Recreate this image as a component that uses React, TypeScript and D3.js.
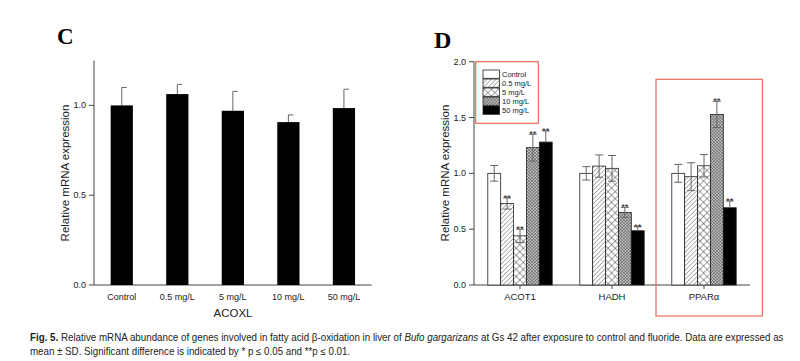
import React, { useLayoutEffect, useRef } from "react";
import * as d3 from "d3";

// Panel C data
const cCategories = ["Control", "0.5 mg/L", "5  mg/L", "10 mg/L", "50 mg/L"];
const cMeans = [1.0, 1.063, 0.97, 0.907, 0.985];
const cErrors = [0.1, 0.054, 0.108, 0.04, 0.105];
const cTicks = [0, 0.5, 1.0];

// Panel D data
const dGenes = ["ACOT1", "HADH", "PPARα"];
const dGroups = ["Control", "0.5 mg/L", "5 mg/L", "10 mg/L", "50 mg/L"];
const acot1Means = [1.0, 0.73, 0.44, 1.23, 1.28];
const acot1Errors = [0.07, 0.05, 0.06, 0.12, 0.1];
const hadhMeans = [1.0, 1.065, 1.045, 0.65, 0.486];
const hadhErrors = [0.06, 0.1, 0.115, 0.045, 0.036];
const pparaMeans = [1.0, 0.97, 1.068, 1.528, 0.692];
const pparaErrors = [0.08, 0.125, 0.1, 0.117, 0.06];
const acot1Sig = ["", "**", "**", "**", "**"];
const hadhSig = ["", "", "", "**", "**"];
const pparaSig = ["", "", "", "**", "**"];
const dTicks = [0, 0.5, 1.0, 1.5, 2.0];

const dMeans = [acot1Means, hadhMeans, pparaMeans];
const dErrors = [acot1Errors, hadhErrors, pparaErrors];
const dSig = [acot1Sig, hadhSig, pparaSig];

const FONT = "'Liberation Sans', Arial, sans-serif";
const AXIS = "#444";
const ERR = "#666";
const RED = "#ec6a5c";

const fills = ["#fff", "url(#pDiag)", "url(#pCross)", "url(#pDense)", "#000"];

function FitText({ x, y, width, children }: { x: number; y: number; width: number; children: React.ReactNode }) {
  const ref = useRef<SVGTextElement>(null);
  useLayoutEffect(() => {
    const el = ref.current;
    if (!el) return;
    el.setAttribute("transform", `translate(${x},${y})`);
    const w = el.getBBox().width;
    const s = w > 0 ? width / w : 1;
    el.setAttribute("transform", `translate(${x},${y}) scale(${s},1)`);
  }, [x, y, width]);
  return (
    <text ref={ref} x={0} y={0} fontSize={10.2} fill="#222" transform={`translate(${x},${y})`}>
      {children}
    </text>
  );
}

export default function App() {
  const cx = d3.scaleBand<string>().domain(cCategories).range([94, 371.7]).paddingInner(0.6).paddingOuter(0.3);
  const cy = d3.scaleLinear().domain([0, 1.25]).range([285, 60.5]);

  const dx0 = d3.scaleBand<string>().domain(dGenes).range([474, 750]).paddingInner(0.3).paddingOuter(0.15);
  const dx1 = d3.scaleBand<string>().domain(dGroups).range([0, dx0.bandwidth()]);
  const dy = d3.scaleLinear().domain([0, 2]).range([285, 61.7]);

  const fmt = d3.format(".1f");

  return (
    <svg width={800} height={361} style={{ position: "absolute", left: 0, top: 0, background: "#fff" }} fontFamily={FONT}>
      <defs>
        <pattern id="pDiag" width="3.2" height="3.2" patternUnits="userSpaceOnUse" patternTransform="rotate(45)">
          <rect width="3.2" height="3.2" fill="#fff" />
          <line x1="0" y1="0" x2="0" y2="3.2" stroke="#555" strokeWidth="0.9" />
        </pattern>
        <pattern id="pCross" width="5" height="5" patternUnits="userSpaceOnUse" patternTransform="rotate(45)">
          <rect width="5" height="5" fill="#fff" />
          <line x1="0" y1="0" x2="0" y2="5" stroke="#333" strokeWidth="0.9" />
          <line x1="0" y1="0" x2="5" y2="0" stroke="#333" strokeWidth="0.9" />
        </pattern>
        <pattern id="pDense" width="2.2" height="2.2" patternUnits="userSpaceOnUse" patternTransform="rotate(45)">
          <rect width="2.2" height="2.2" fill="#c4c4c4" />
          <line x1="0" y1="0" x2="0" y2="2.2" stroke="#3a3a3a" strokeWidth="0.75" />
          <line x1="0" y1="0" x2="2.2" y2="0" stroke="#3a3a3a" strokeWidth="0.75" />
        </pattern>
      </defs>

      {/* ===== Panel C ===== */}
      <text x={57} y={44} fontFamily="'Liberation Serif', 'Times New Roman', serif" fontWeight="bold" fontSize={23}>C</text>
      <line x1={94} x2={94} y1={cy(1.25)} y2={cy(0)} stroke={AXIS} strokeWidth={1} />
      {cTicks.map((t) => (
        <g key={t}>
          <line x1={89} x2={94} y1={cy(t)} y2={cy(t)} stroke={AXIS} />
          <text x={86} y={cy(t) + 3} textAnchor="end" fontSize={9} fill="#222">{fmt(t)}</text>
        </g>
      ))}
      <line x1={94} x2={371.7} y1={cy(0)} y2={cy(0)} stroke={AXIS} />
      {cCategories.map((c, i) => {
        const x = cx(c)!;
        const w = cx.bandwidth();
        const mx = x + w / 2;
        return (
          <g key={c}>
            <line x1={mx} x2={mx} y1={cy(cMeans[i])} y2={cy(cMeans[i] + cErrors[i])} stroke={ERR} />
            <line x1={mx} x2={mx + 5} y1={cy(cMeans[i] + cErrors[i])} y2={cy(cMeans[i] + cErrors[i])} stroke={ERR} />
            <rect x={x} y={cy(cMeans[i])} width={w} height={cy(0) - cy(cMeans[i])} fill="#000" />
            <text x={mx} y={300} textAnchor="middle" fontSize={9} fill="#222">{c}</text>
          </g>
        );
      })}
      <text x={233} y={317} textAnchor="middle" fontSize={11.5} fill="#222">ACOXL</text>
      <text transform={`translate(69,173) rotate(-90)`} textAnchor="middle" fontSize={11.5} fill="#222">Relative mRNA expression</text>

      {/* ===== Panel D ===== */}
      <text x={434} y={48} fontFamily="'Liberation Serif', 'Times New Roman', serif" fontWeight="bold" fontSize={24}>D</text>
      <line x1={474} x2={474} y1={dy(2)} y2={dy(0)} stroke={AXIS} />
      {dTicks.map((t) => (
        <g key={t}>
          <line x1={469} x2={474} y1={dy(t)} y2={dy(t)} stroke={AXIS} />
          <text x={466} y={dy(t) + 3} textAnchor="end" fontSize={9} fill="#222">{fmt(t)}</text>
        </g>
      ))}
      <line x1={474} x2={750} y1={dy(0)} y2={dy(0)} stroke={AXIS} />
      {dGenes.map((g, gi) => {
        const gx = dx0(g)!;
        const cxm = gx + dx0.bandwidth() / 2;
        return (
          <g key={g}>
            <line x1={cxm} x2={cxm} y1={dy(0)} y2={dy(0) + 4} stroke={AXIS} />
            <text x={cxm} y={300} textAnchor="middle" fontSize={9.5} fill="#222">{g}</text>
            {dGroups.map((grp, i) => {
              const x = gx + dx1(grp)!;
              const w = dx1.bandwidth();
              const v = dMeans[gi][i];
              const e = dErrors[gi][i];
              const mx = x + w / 2;
              const black = i === 4;
              return (
                <g key={grp}>
                  <rect x={x} y={dy(v)} width={w} height={dy(0) - dy(v)} fill={fills[i]} stroke="#222" strokeWidth={0.8} />
                  <line x1={mx} x2={mx} y1={dy(v + e)} y2={black ? dy(v) : dy(v - e)} stroke={ERR} />
                  <line x1={mx - 4} x2={mx + 4} y1={dy(v + e)} y2={dy(v + e)} stroke={ERR} />
                  {!black && <line x1={mx - 4} x2={mx + 4} y1={dy(v - e)} y2={dy(v - e)} stroke={ERR} />}
                  {dSig[gi][i] && (
                    <text x={mx} y={dy(v + e) + 3} textAnchor="middle" fontSize={9.5} fill="#222">{dSig[gi][i]}</text>
                  )}
                </g>
              );
            })}
          </g>
        );
      })}
      <text transform={`translate(449,173) rotate(-90)`} textAnchor="middle" fontSize={11.5} fill="#222">Relative mRNA expression</text>

      {/* legend */}
      {dGroups.map((grp, i) => (
        <g key={grp}>
          <rect x={483} y={70 + i * 9} width={16.5} height={8.3} fill={fills[i]} stroke="#222" strokeWidth={0.8} />
          <text x={502} y={77 + i * 9} fontSize={7.5} fill="#222">{grp}</text>
        </g>
      ))}
      <rect x={475.7} y={61.7} width={62.6} height={61.6} fill="none" stroke={RED} strokeWidth={1.2} />
      <rect x={656} y={79.3} width={106.3} height={236.7} fill="none" stroke={RED} strokeWidth={1.2} />

      {/* caption */}
      <FitText x={30} y={341} width={753}>
        <tspan fontWeight="bold">Fig. 5.</tspan> Relative mRNA abundance of genes involved in fatty acid β-oxidation in liver of <tspan fontStyle="italic">Bufo gargarizans</tspan> at Gs 42 after exposure to control and fluoride. Data are expressed as
      </FitText>
      <FitText x={30} y={355} width={320}>
        mean ± SD. Significant difference is indicated by * p ≤ 0.05 and **p ≤ 0.01.
      </FitText>
    </svg>
  );
}
